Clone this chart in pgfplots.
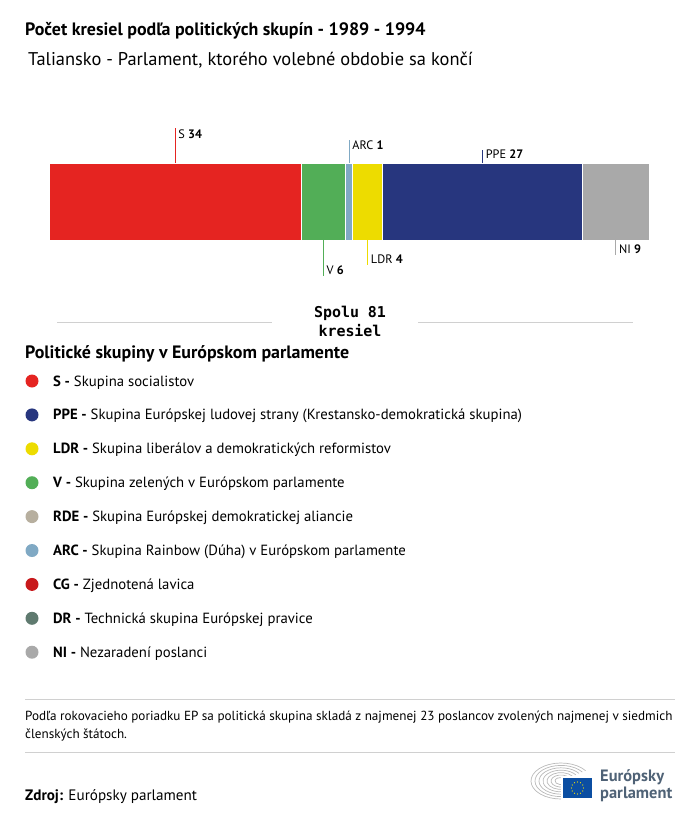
\documentclass[border=0pt]{standalone}
\usepackage{pgfplots}
\pgfplotsset{compat=1.18}
\usepackage{fontspec}
\setmainfont{PT Sans}
\setmonofont{DejaVu Sans Mono}
\definecolor{cS}{HTML}{E52421}
\definecolor{cPPE}{HTML}{27367E}
\definecolor{cLDR}{HTML}{EDDC00}
\definecolor{cV}{HTML}{52AE57}
\definecolor{cRDE}{HTML}{B7AF9F}
\definecolor{cARC}{HTML}{80A9C4}
\definecolor{cCG}{HTML}{C8191C}
\definecolor{cDR}{HTML}{5F7A6F}
\definecolor{cNI}{HTML}{A9A9A9}
\definecolor{rule}{HTML}{D0D0D0}
\definecolor{epblue}{HTML}{4F6276}
\definecolor{euflag}{HTML}{0B4EA2}
\begin{document}
\begin{tikzpicture}[x=1bp,y=1bp]
\useasboundingbox (0,0) rectangle (700,-820);
% titles
\node[anchor=base west, inner sep=0, font=\fontsize{18}{21}\selectfont\bfseries] at (25,-36) {Počet kresiel podľa politických skupín - 1989 - 1994};
\node[anchor=base west, inner sep=0, font=\fontsize{18.5}{21}\selectfont] at (28,-66) {Taliansko - Parlament, ktorého volebné obdobie sa končí};

\begin{axis}[at={(66.5,-280)}, anchor=south west, scale only axis,
    width=600bp, height=160bp, xmin=0, xmax=81, ymin=-280, ymax=-120,
    hide axis, clip=false, xbar stacked, bar width=77bp,
    every axis plot/.append style={draw=white, line width=1bp}]
\addplot[fill=cS] coordinates {(34,-201.5)};
\addplot[fill=cV] coordinates {(6,-201.5)};
\addplot[fill=cARC] coordinates {(1,-201.5)};
\addplot[fill=cLDR] coordinates {(4,-201.5)};
\addplot[fill=cPPE] coordinates {(27,-201.5)};
\addplot[fill=cNI] coordinates {(9,-201.5)};
% anchor points for the leader lines (segment middles)
\coordinate (s0) at (axis cs:17,-163);   \coordinate (s1) at (axis cs:17,-128);
\coordinate (v0) at (axis cs:37,-240);   \coordinate (v1) at (axis cs:37,-276);
\coordinate (a0) at (axis cs:40.5,-163); \coordinate (a1) at (axis cs:40.5,-140);
\coordinate (l0) at (axis cs:43,-240);   \coordinate (l1) at (axis cs:43,-265);
\coordinate (p0) at (axis cs:58.5,-163); \coordinate (p1) at (axis cs:58.5,-150);
\coordinate (n0) at (axis cs:76.5,-240); \coordinate (n1) at (axis cs:76.5,-255);
\end{axis}
\tikzset{lab/.style={text=black, inner sep=0, xshift=3bp, font=\fontsize{12.3}{14}\selectfont}}
\draw[color=cS, line width=1bp] (s0) -- (s1);
\node[lab, anchor=north west, yshift=-2bp] at (s1) {S \textbf{34}};
\draw[color=cV, line width=1bp] (v0) -- (v1);
\node[lab, anchor=south west, yshift=1bp] at (v1) {V \textbf{6}};
\draw[color=cARC, line width=1bp] (a0) -- (a1);
\node[lab, anchor=north west, yshift=-1bp] at (a1) {ARC \textbf{1}};
\draw[color=cLDR, line width=1bp] (l0) -- (l1);
\node[lab, anchor=south west, yshift=1bp] at (l1) {LDR \textbf{4}};
\draw[color=cPPE, line width=1bp] (p0) -- (p1);
\node[lab, anchor=north west] at (p1) {PPE \textbf{27}};
\draw[color=cNI, line width=1bp] (n0) -- (n1);
\node[lab, anchor=south west, yshift=1bp] at (n1) {NI \textbf{9}};

% total
\draw[rule, line width=0.8bp] (57,-322) -- (272,-322);
\draw[rule, line width=0.8bp] (418,-322) -- (633,-322);
\node[anchor=base, inner sep=0, font=\fontsize{15}{17}\selectfont\ttfamily\bfseries] at (350,-317) {Spolu 81};
\node[anchor=base, inner sep=0, font=\fontsize{15}{17}\selectfont\ttfamily\bfseries] at (350,-336) {kresiel};

% legend
\node[anchor=base west, inner sep=0, font=\fontsize{18}{21}\selectfont\bfseries] at (25,-358) {Politické skupiny v Európskom parlamente};
\foreach \c/\a/\t [count=\i from 0] in {
    cS/S/Skupina socialistov,
    cPPE/PPE/Skupina Európskej ludovej strany (Krestansko-demokratická skupina),
    cLDR/LDR/Skupina liberálov a demokratických reformistov,
    cV/V/Skupina zelených v Európskom parlamente,
    cRDE/RDE/Skupina Európskej demokratickej aliancie,
    cARC/ARC/Skupina Rainbow (Dúha) v Európskom parlamente,
    cCG/CG/Zjednotená lavica,
    cDR/DR/Technická skupina Európskej pravice,
    cNI/NI/Nezaradení poslanci}{
  \fill[\c] (32,{-381-33.9*\i}) circle (6.5);
  \node[anchor=base west, inner sep=0, font=\fontsize{14.8}{17}\selectfont] at (53,{-386-33.9*\i}) {\textbf{\a\ -} \t};
}

% footer
\draw[rule, line width=0.8bp] (25,-699) -- (675,-699);
\node[anchor=base west, inner sep=0, font=\fontsize{13.2}{15}\selectfont] at (25,-720) {Podľa rokovacieho poriadku EP sa politická skupina skladá z najmenej 23 poslancov zvolených najmenej v siedmich};
\node[anchor=base west, inner sep=0, font=\fontsize{13.2}{15}\selectfont] at (25,-738) {členských štátoch.};
\draw[rule, line width=0.8bp] (25,-752) -- (675,-752);
\node[anchor=base west, inner sep=0, font=\fontsize{15.2}{17}\selectfont] at (25,-800) {\textbf{Zdroj:} Európsky parlament};

% logo
\foreach \r in {6,10,14,18,22,26,30}{
  \draw[gray!55, line width=0.7bp] (561,-781) ++(35:{\r} and {0.6*\r}) arc[start angle=35, end angle=335, x radius=\r, y radius={0.6*\r}];
}
\fill[white] (561,-776) rectangle (594,-800);
\fill[euflag] (563,-778) rectangle (592,-798);
\foreach \k in {0,30,...,330}{
  \fill[yellow!90!orange] (577.5,-788) ++(\k:6) circle (0.6);
}
\node[anchor=base west, inner sep=0, text=epblue, font=\fontsize{16.5}{18}\selectfont\bfseries] at (600,-781) {Európsky};
\node[anchor=base west, inner sep=0, text=epblue, font=\fontsize{16.5}{18}\selectfont\bfseries] at (600,-798) {parlament};
\end{tikzpicture}
\end{document}
